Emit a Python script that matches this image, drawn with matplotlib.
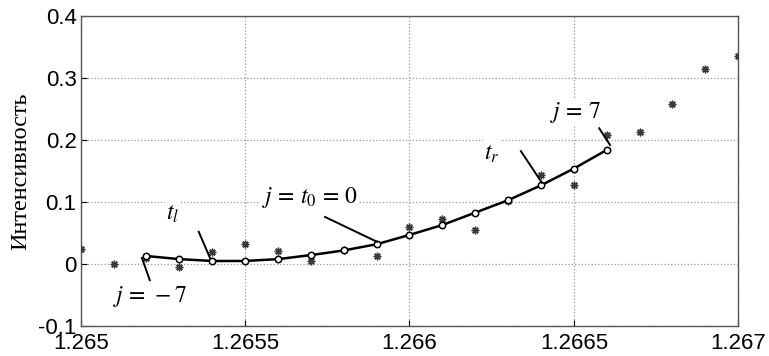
import numpy as np
import matplotlib
matplotlib.use("Agg")
import matplotlib.pyplot as plt

# fitted points j = -7 .. 7
fit_x = [1.2652, 1.2653, 1.2654, 1.2655, 1.2656, 1.2657, 1.2658, 1.2659,
         1.2660, 1.2661, 1.2662, 1.2663, 1.2664, 1.2665, 1.2666]
fit_y = [0.013, 0.008, 0.005, 0.005, 0.008, 0.0145, 0.022, 0.032,
         0.047, 0.063, 0.083, 0.103, 0.127, 0.154, 0.184]

# measured samples
data_x = [1.2650, 1.2651, 1.2652, 1.2653, 1.2654, 1.2655, 1.2656, 1.2657,
          1.2658, 1.2659, 1.2660, 1.2661, 1.2662, 1.2663, 1.2664, 1.2665,
          1.2666, 1.2667, 1.2668, 1.2669, 1.2670]
data_y = [0.025, 0.0, 0.010, -0.004, 0.020, 0.032, 0.021, 0.005,
          0.022, 0.013, 0.059, 0.073, 0.055, 0.102, 0.143, 0.128,
          0.208, 0.213, 0.258, 0.315, 0.336]

xticks = [1.265, 1.2655, 1.266, 1.2665, 1.267]
xticklabels = ["1.265", "1.2655", "1.266", "1.2665", "1.267"]
yticks = [-0.1, 0, 0.1, 0.2, 0.3, 0.4]
yticklabels = ["-0.1", "0", "0.1", "0.2", "0.3", "0.4"]

# labels: text, text position, pointer start, pointer end
notes = [
    (r"$j\,=\,7$", (1.266504, 0.245), (1.266577, 0.219), (1.266610, 0.192)),
    (r"$t_r$", (1.266251, 0.179), (1.266339, 0.182), (1.266403, 0.131)),
    (r"$j\,=\,t_0\,=\,0$", (1.265697, 0.108), (1.265743, 0.076), (1.265901, 0.036)),
    (r"$t_l$", (1.265280, 0.082), (1.265359, 0.052), (1.265393, 0.010)),
    (r"$j\,=\,-7$", (1.265209, -0.053), (1.265186, 0.010), (1.265210, -0.026)),
]

plt.rcParams["mathtext.fontset"] = "stix"

fig = plt.figure(figsize=(7.69, 3.56), dpi=100)
ax = fig.add_axes([0.105, 0.084, 0.855, 0.871])

ax.plot(data_x, data_y, linestyle="none", marker=(8, 2, 0), markersize=5.5,
        markeredgewidth=1.0, color="#3a3a3a", zorder=3)
ax.plot(fit_x, fit_y, color="black", linewidth=1.8, marker="o", markersize=4.6,
        markerfacecolor="white", markeredgecolor="black", markeredgewidth=1.1, zorder=4)

ax.set_xlim(1.265, 1.267)
ax.set_ylim(-0.1, 0.4)
ax.set_xticks(xticks)
ax.set_xticklabels(xticklabels)
ax.set_yticks(yticks)
ax.set_yticklabels(yticklabels)
ax.tick_params(direction="in", length=4, labelsize=16, colors="black")
ax.tick_params(axis="y", pad=3)
ax.tick_params(axis="x", pad=5)
for lab in ax.get_xticklabels() + ax.get_yticklabels():
    lab.set_fontfamily("Liberation Sans")
ax.grid(True, linestyle=":", color="#999999", linewidth=0.9)
for s in ax.spines.values():
    s.set_color("#555555")
    s.set_linewidth(1.0)

ax.set_ylabel("Интенсивность", fontfamily="Liberation Serif", fontsize=17.5, labelpad=5)

bbox = dict(facecolor="white", edgecolor="none", pad=1)
for txt, tpos, p0, p1 in notes:
    ax.text(tpos[0], tpos[1], txt, fontsize=17, ha="center", va="center",
            bbox=bbox, zorder=5)
    ax.plot([p0[0], p1[0]], [p0[1], p1[1]], color="black", linewidth=1.4, zorder=5)

fig.savefig("out.png", dpi=100)
